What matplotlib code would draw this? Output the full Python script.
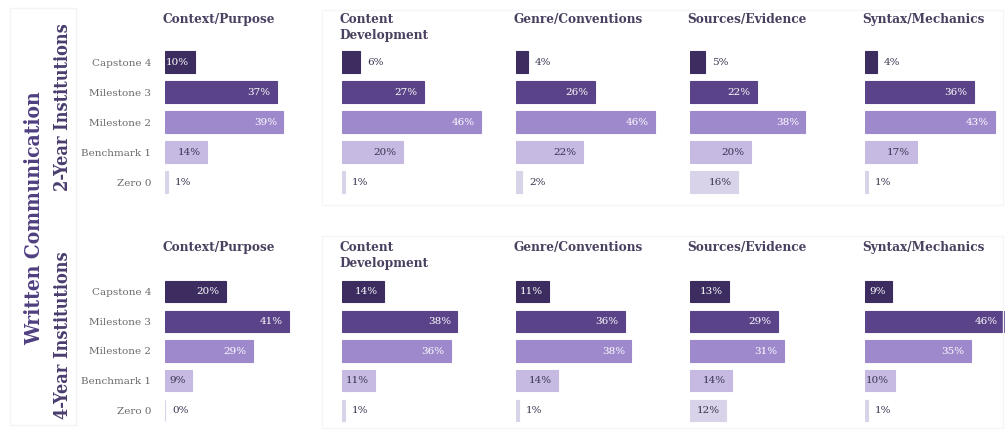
import matplotlib
matplotlib.use("Agg")
import matplotlib.pyplot as plt
from matplotlib.patches import Rectangle

# ── Data ──────────────────────────────────────────────────────────────────────
levels = ["Capstone 4", "Milestone 3", "Milestone 2", "Benchmark 1", "Zero 0"]
criteria = ["Context/Purpose", "Content\nDevelopment", "Genre/Conventions",
            "Sources/Evidence", "Syntax/Mechanics"]
groups = ["2-Year Institutions", "4-Year Institutions"]

two_year_context = [10, 37, 39, 14, 1]
two_year_content = [6, 27, 46, 20, 1]
two_year_genre = [4, 26, 46, 22, 2]
two_year_sources = [5, 22, 38, 20, 16]
two_year_syntax = [4, 36, 43, 17, 1]

four_year_context = [20, 41, 29, 9, 0]
four_year_content = [14, 38, 36, 11, 1]
four_year_genre = [11, 36, 38, 14, 1]
four_year_sources = [13, 29, 31, 14, 12]
four_year_syntax = [9, 46, 35, 10, 1]

rows = [
    [two_year_context, two_year_content, two_year_genre, two_year_sources, two_year_syntax],
    [four_year_context, four_year_content, four_year_genre, four_year_sources, four_year_syntax],
]

# ── Style ─────────────────────────────────────────────────────────────────────
LEVEL_COLOURS = ["#3d2c60", "#5a4388", "#9d89cc", "#c6b9e2", "#d9d3ea"]
TEXT_ON_BAR = ["white", "white", "white", "#3a3350", "#3a3350"]
DARK_TEXT = "#3a3350"
TITLE_COLOUR = "#4a4060"
PURPLE = "#4f3f80"

W, H = 1005, 432
fig = plt.figure(figsize=(W / 100, H / 100), dpi=100)
fig.patch.set_facecolor("white")


def px_axes(left, top, width, height):
    return fig.add_axes([left / W, 1 - (top + height) / H, width / W, height / H])


def px_rect(left, top, right, bottom, colour):
    fig.patches.append(Rectangle((left / W, 1 - bottom / H), (right - left) / W,
                                 (bottom - top) / H, transform=fig.transFigure,
                                 fill=False, edgecolor=colour, linewidth=1.0, zorder=0))


panel_lefts = [165, 342, 516, 690, 865]
row_tops = [47, 277]
row_heights = [150, 148]
title_tops = [13, 241]
XMAX = 50
AX_W = 151.5

# very faint frames, as in the source graphic
px_rect(10, 8, 76, 425, "#f3f3f5")
px_rect(322, 10, 1003, 205, "#f5f5f7")
px_rect(322, 236, 1003, 428, "#f5f5f7")

for r, row in enumerate(rows):
    for k, values in enumerate(row):
        ax = px_axes(panel_lefts[k], row_tops[r], AX_W, row_heights[r])
        ypos = list(range(len(levels)))
        ax.barh(ypos, values, height=0.72, color=LEVEL_COLOURS,
                edgecolor=LEVEL_COLOURS, linewidth=0.8)
        ax.set_xlim(0, XMAX)
        ax.set_ylim(len(levels) - 0.5, -0.5)
        for s in ax.spines.values():
            s.set_visible(False)
        ax.set_xticks([])
        ax.set_yticks(ypos)
        if k == 0:
            ax.set_yticklabels(levels, fontsize=7.5, family="DejaVu Serif", color="#6a6a6a")
            ax.tick_params(axis="y", length=0, pad=10)
        else:
            ax.set_yticklabels([])
            ax.tick_params(axis="y", length=0)
        ax.patch.set_alpha(0)

        for i, v in enumerate(values):
            if v >= 9:
                ax.annotate(f"{v}%", (v, i), xytext=(-4.5, 0), textcoords="offset points",
                            ha="right", va="center", fontsize=7.5, family="DejaVu Serif",
                            color=TEXT_ON_BAR[i])
            else:
                ax.annotate(f"{v}%", (v, i), xytext=(5, 0), textcoords="offset points",
                            ha="left", va="center", fontsize=7.5, family="DejaVu Serif",
                            color=DARK_TEXT)

        fig.text((panel_lefts[k] - 3) / W, 1 - title_tops[r] / H, criteria[k],
                 ha="left", va="top", fontsize=8.7, fontweight="bold",
                 family="DejaVu Serif", color=TITLE_COLOUR, linespacing=1.3)

# ── Side labels ───────────────────────────────────────────────────────────────
fig.text(34 / W, 1 - 218 / H, "Written Communication", rotation=90,
         ha="center", va="center", fontsize=15, fontweight="bold",
         family="DejaVu Serif", fontstretch="condensed", color=PURPLE)
fig.text(63 / W, 1 - 107 / H, groups[0], rotation=90, ha="center", va="center",
         fontsize=13, fontweight="bold", family="DejaVu Serif",
         fontstretch="condensed", color="#4a3d6e")
fig.text(63 / W, 1 - 335 / H, groups[1], rotation=90, ha="center", va="center",
         fontsize=13, fontweight="bold", family="DejaVu Serif",
         fontstretch="condensed", color="#4a3d6e")

fig.savefig("out.png", dpi=100, facecolor="white")
